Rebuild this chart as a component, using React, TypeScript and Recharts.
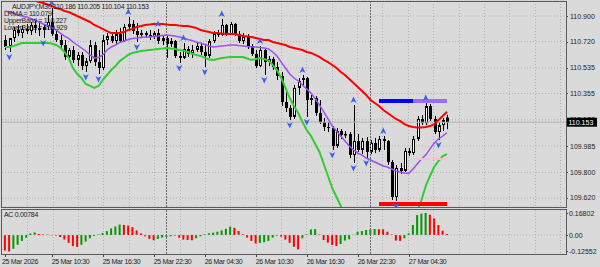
import {
  ComposedChart, Line, Bar, Scatter, XAxis, YAxis, CartesianGrid, ReferenceLine, Cell,
} from 'recharts'

// AUDJPY M30, bar 0 = 25 Mar 05:00, last bar (104) = 27 Mar 09:00
const open = [
  110.731, 110.682, 110.745, 110.802, 110.780, 110.809, 110.794, 110.837, 110.816, 110.802,
  110.823, 110.858, 110.773, 110.731, 110.696, 110.612, 110.661, 110.591, 110.626, 110.548,
  110.583, 110.696, 110.576, 110.534, 110.731, 110.759, 110.724, 110.773, 110.724, 110.823,
  110.844, 110.794, 110.766, 110.780, 110.766, 110.752, 110.780, 110.724, 110.745, 110.703,
  110.724, 110.619, 110.605, 110.668, 110.633, 110.661, 110.689, 110.647, 110.619, 110.724,
  110.780, 110.766, 110.837, 110.773, 110.844, 110.773, 110.724, 110.759, 110.689, 110.633,
  110.548, 110.661, 110.576, 110.598, 110.541, 110.478, 110.295, 110.253, 110.190, 110.394,
  110.450, 110.464, 110.309, 110.323, 110.218, 110.154, 110.119, 110.112, 109.986, 110.091,
  110.063, 110.070, 109.922, 110.021, 109.958, 110.021, 109.944, 110.007, 109.958, 110.035,
  110.021, 109.873, 109.627, 109.831, 109.810, 109.951, 109.936, 110.035, 110.176, 110.147,
  110.267, 110.176, 110.084, 110.133, 110.186,
]
const high = [
  110.766, 110.717, 110.823, 110.837, 110.830, 110.844, 110.858, 110.872, 110.858, 110.837,
  110.907, 110.956, 110.802, 110.766, 110.731, 110.675, 110.689, 110.647, 110.647, 110.605,
  110.731, 110.717, 110.661, 110.766, 110.780, 110.787, 110.802, 110.816, 110.844, 110.893,
  110.872, 110.851, 110.802, 110.794, 110.802, 110.794, 110.809, 110.759, 110.759, 110.745,
  110.731, 110.647, 110.710, 110.689, 110.696, 110.710, 110.703, 110.696, 110.738, 110.794,
  110.802, 110.879, 110.844, 110.858, 110.851, 110.794, 110.780, 110.773, 110.703, 110.661,
  110.689, 110.675, 110.619, 110.612, 110.576, 110.506, 110.379, 110.274, 110.415, 110.464,
  110.485, 110.471, 110.344, 110.337, 110.309, 110.183, 110.154, 110.126, 110.112, 110.105,
  110.091, 110.084, 110.274, 110.070, 110.042, 110.049, 110.028, 110.042, 110.056, 110.056,
  110.028, 109.887, 109.852, 109.866, 109.972, 109.972, 110.056, 110.197, 110.204, 110.288,
  110.281, 110.197, 110.154, 110.183, 110.205,
]
const low = [
  110.661, 110.647, 110.717, 110.759, 110.745, 110.773, 110.766, 110.780, 110.759, 110.745,
  110.802, 110.759, 110.717, 110.675, 110.591, 110.576, 110.569, 110.548, 110.520, 110.506,
  110.569, 110.548, 110.492, 110.520, 110.696, 110.710, 110.703, 110.710, 110.717, 110.802,
  110.773, 110.717, 110.745, 110.745, 110.731, 110.738, 110.703, 110.696, 110.605, 110.682,
  110.605, 110.569, 110.598, 110.612, 110.605, 110.647, 110.626, 110.541, 110.605, 110.710,
  110.752, 110.759, 110.759, 110.766, 110.759, 110.710, 110.703, 110.668, 110.619, 110.534,
  110.541, 110.485, 110.548, 110.520, 110.450, 110.267, 110.225, 110.168, 110.176, 110.344,
  110.408, 110.190, 110.274, 110.197, 110.140, 110.091, 110.084, 109.958, 109.972, 110.035,
  110.042, 109.901, 109.866, 109.944, 109.929, 109.901, 109.929, 109.936, 109.944, 109.958,
  109.852, 109.606, 109.599, 109.789, 109.803, 109.915, 109.922, 110.021, 110.133, 110.133,
  110.161, 110.070, 110.028, 110.091, 110.104,
]
const close = [
  110.682, 110.745, 110.802, 110.780, 110.809, 110.794, 110.837, 110.816, 110.802, 110.823,
  110.858, 110.773, 110.731, 110.696, 110.612, 110.661, 110.591, 110.626, 110.548, 110.583,
  110.696, 110.576, 110.534, 110.731, 110.759, 110.724, 110.773, 110.724, 110.823, 110.844,
  110.794, 110.766, 110.780, 110.766, 110.752, 110.780, 110.724, 110.745, 110.703, 110.724,
  110.619, 110.605, 110.668, 110.633, 110.661, 110.689, 110.647, 110.619, 110.724, 110.780,
  110.766, 110.837, 110.773, 110.844, 110.773, 110.724, 110.759, 110.689, 110.633, 110.548,
  110.661, 110.576, 110.598, 110.541, 110.478, 110.295, 110.253, 110.190, 110.394, 110.443,
  110.464, 110.309, 110.323, 110.218, 110.154, 110.119, 110.112, 109.986, 110.091, 110.063,
  110.070, 109.922, 110.021, 109.958, 110.021, 109.944, 110.007, 109.958, 110.035, 110.021,
  109.873, 109.627, 109.831, 109.810, 109.951, 109.936, 110.035, 110.176, 110.147, 110.267,
  110.176, 110.084, 110.133, 110.168, 110.153,
]

// indicator lines
const upperBand = [
  111.069, 111.055, 111.048, 111.034, 111.027, 111.020, 111.013, 111.009, 110.998, 110.991,
  110.981, 110.970, 110.956, 110.949, 110.935, 110.928, 110.914, 110.900, 110.886, 110.872,
  110.858, 110.837, 110.823, 110.809, 110.794, 110.780, 110.780, 110.780, 110.787, 110.802,
  110.809, 110.823, 110.830, 110.837, 110.840, 110.844, 110.844, 110.844, 110.840, 110.837,
  110.837, 110.833, 110.830, 110.830, 110.823, 110.816, 110.802, 110.794, 110.787, 110.780,
  110.780, 110.777, 110.773, 110.773, 110.773, 110.766, 110.759, 110.756, 110.752, 110.745,
  110.738, 110.731, 110.731, 110.717, 110.710, 110.703, 110.696, 110.682, 110.675, 110.668,
  110.661, 110.647, 110.640, 110.626, 110.612, 110.591, 110.576, 110.555, 110.534, 110.506,
  110.485, 110.457, 110.429, 110.401, 110.372, 110.344, 110.309, 110.288, 110.267, 110.239,
  110.218, 110.197, 110.176, 110.161, 110.140, 110.126, 110.119, 110.116, 110.116, 110.119,
  110.126, 110.140, 110.168, 110.197, 110.227,
]
const lrma = [
  110.935, 110.928, 110.921, 110.907, 110.900, 110.893, 110.882, 110.872, 110.858, 110.844,
  110.833, 110.819, 110.802, 110.780, 110.759, 110.742, 110.717, 110.696, 110.675, 110.654,
  110.626, 110.605, 110.608, 110.626, 110.661, 110.682, 110.696, 110.714, 110.724, 110.735,
  110.742, 110.745, 110.749, 110.752, 110.752, 110.756, 110.759, 110.763, 110.766, 110.763,
  110.759, 110.752, 110.745, 110.735, 110.728, 110.717, 110.710, 110.700, 110.689, 110.682,
  110.685, 110.689, 110.692, 110.696, 110.696, 110.692, 110.689, 110.685, 110.682, 110.682,
  110.678, 110.675, 110.668, 110.647, 110.619, 110.576, 110.534, 110.492, 110.464, 110.443,
  110.415, 110.386, 110.358, 110.316, 110.274, 110.225, 110.176, 110.126, 110.091, 110.056,
  110.021, 109.986, 109.958, 109.936, 109.922, 109.901, 109.887, 109.873, 109.859, 109.845,
  109.838, 109.824, 109.810, 109.803, 109.796, 109.792, 109.824, 109.859, 109.894, 109.922,
  109.965, 110.007, 110.035, 110.056, 110.079,
]
const lowerBand = [
  110.682, 110.682, 110.689, 110.700, 110.710, 110.710, 110.710, 110.710, 110.710, 110.710,
  110.710, 110.706, 110.696, 110.678, 110.647, 110.605, 110.534, 110.492, 110.464, 110.422,
  110.408, 110.394, 110.408, 110.450, 110.485, 110.520, 110.548, 110.583, 110.605, 110.626,
  110.640, 110.647, 110.654, 110.657, 110.661, 110.664, 110.668, 110.671, 110.675, 110.671,
  110.668, 110.661, 110.657, 110.647, 110.636, 110.626, 110.619, 110.605, 110.594, 110.591,
  110.598, 110.605, 110.608, 110.612, 110.612, 110.612, 110.612, 110.601, 110.591, 110.598,
  110.605, 110.598, 110.587, 110.555, 110.520, 110.464, 110.394, 110.323, 110.267, 110.218,
  110.154, 110.098, 110.056, 110.000, 109.944, 109.859, 109.775, 109.690, 109.627, 109.564,
  109.500, 109.437, 109.381, 109.325, 109.282, 109.247, 109.219, 109.205, 109.198, 109.205,
  109.219, 109.240, 109.268, 109.310, 109.353, 109.409, 109.465, 109.529, 109.606, 109.704,
  109.775, 109.838, 109.880, 109.915, 109.929,
]

// Accelerator Oscillator
const acValues = [
  -0.118, -0.1255, -0.105, -0.075, -0.045, -0.02, 0.012, 0.02, 0.008, 0.005,
  0.003, -0.002, -0.005, -0.015, -0.035, -0.06, -0.085, -0.09, -0.075, -0.05,
  -0.025, -0.008, 0.004, 0.015, 0.03, 0.05, 0.065, 0.08, 0.077, 0.072,
  0.06, 0.035, 0.012, -0.01, -0.03, -0.04, -0.03, -0.02, -0.014, -0.01,
  -0.005, -0.02, -0.035, -0.038, -0.04, -0.025, -0.01, 0.006, 0.014, 0.018,
  0.025, 0.035, 0.048, 0.064, 0.055, 0.03, 0.005, -0.02, -0.045, -0.065,
  -0.06, -0.055, -0.045, -0.02, -0.005, -0.012, -0.035, -0.06, -0.09, -0.11,
  -0.025, 0.005, 0.043, 0.045, 0.005, -0.038, -0.058, -0.076, -0.084, -0.069,
  -0.043, -0.033, 0.002, 0.025, 0.03, 0.038, 0.043, 0.046, 0.044, 0.043,
  0.025, 0.005, -0.043, -0.045, -0.025, 0.013, 0.076, 0.153, 0.163, 0.16802,
  0.155, 0.127, 0.076, 0.033, 0.00784,
]

const fractalUpBars = [11, 29, 36, 42, 51, 60, 70, 82, 89, 99]
const fractalDownBars = [1, 9, 19, 22, 31, 41, 47, 61, 67, 71, 77, 82, 85, 92, 102]

// zone levels drawn at the right
const resistanceLevel = 110.302
const supportLevel = 109.578
const midLevel = 109.894
const zoneStart = 88
const zoneSplit = 96
const zoneEnd = 104

const priceTicks = [110.9, 110.72, 110.535, 110.355, 110.17, 109.985, 109.8, 109.62]
const acTicks = [0.16802, 0, -0.12552]
const acTickLabels = ['0.16802', '0.00', '-0.12552']
const timeTickBars = [0, 11, 23, 35, 47, 59, 71, 83, 95]
const timeTickLabels = [
  '25 Mar 2026', '25 Mar 10:30', '25 Mar 16:30', '25 Mar 22:30', '26 Mar 04:30',
  '26 Mar 10:30', '26 Mar 16:30', '26 Mar 22:30', '27 Mar 04:30',
]
const daySeparators = [38, 86]

const last = open.length - 1
const lastClose = close[last]

const bars = open.map((o, i) => ({
  i,
  open: o,
  high: high[i],
  low: low[i],
  close: close[i],
  range: [low[i], high[i]],
  upper: upperBand[i],
  lrma: lrma[i],
  lower: lowerBand[i],
  ac: acValues[i],
}))

const upArrows = fractalUpBars.map((i) => ({ i, price: high[i] }))
const downArrows = fractalDownBars.map((i) => ({ i, price: low[i] }))
const blueZone = [{ i: zoneStart, price: resistanceLevel }, { i: zoneSplit, price: resistanceLevel }]
const purpleZone = [{ i: zoneSplit, price: resistanceLevel }, { i: zoneEnd, price: resistanceLevel }]
const redZone = [{ i: zoneStart, price: supportLevel }, { i: zoneEnd, price: supportLevel }]
const pinkZone = [{ i: zoneSplit, price: midLevel }, { i: zoneEnd, price: midLevel }]

const FONT = '"Liberation Sans", Arial, sans-serif'
const BG = '#dadada'
const GRID = '#b2b2b2'
const xDomain: [number, number] = [-0.706, 132]

// MT4 grid is pixel based, not bar based
const gridX = Array.from({ length: 22 }, (_, k) => Math.round(27.3 + k * 25.37) + 0.5)

function Candle(props: any) {
  const { x, y, width, height, payload } = props
  if (x == null || !payload) return null
  const top = Math.min(y, y + height)
  const bottom = Math.max(y, y + height)
  const span = payload.high - payload.low
  const toY = (p: number) => (span > 0 ? top + ((payload.high - p) / span) * (bottom - top) : top)
  const cx = Math.round(x + width / 2)
  const yo = toY(payload.open)
  const yc = toY(payload.close)
  const bodyTop = Math.min(yo, yc)
  const bodyH = Math.max(Math.abs(yc - yo), 1)
  const bull = payload.close >= payload.open
  return (
    <g>
      <line x1={cx + 0.5} x2={cx + 0.5} y1={top} y2={bottom} stroke="#000" strokeWidth={1} />
      {bull ? (
        <rect x={cx - 0.5} y={bodyTop + 0.5} width={2} height={Math.max(bodyH - 1, 0.5)} fill="#fff" stroke="#000" strokeWidth={1} />
      ) : (
        <rect x={cx - 1} y={bodyTop} width={3} height={bodyH} fill="#000" />
      )}
    </g>
  )
}

function UpArrow(props: any) {
  const { cx, cy } = props
  if (cx == null) return null
  const y = cy - 5
  return <path d={`M${cx},${y - 3.5} L${cx + 3},${y + 3} L${cx},${y + 1.2} L${cx - 3},${y + 3} Z`} fill="#3b5cf5" />
}

function DownArrow(props: any) {
  const { cx, cy } = props
  if (cx == null) return null
  const y = cy + 5
  return <path d={`M${cx},${y + 3.5} L${cx + 3},${y - 3} L${cx},${y - 1.2} L${cx - 3},${y - 3} Z`} fill="#3b5cf5" />
}

function PriceTick({ x, y, payload }: any) {
  const v = payload.value
  if (v === lastClose) {
    return (
      <g>
        <rect x={x} y={y - 4.5} width={31} height={9} fill="#000" />
        <text x={x + 2.5} y={y + 2.5} fontSize={7} fontFamily={FONT} fill="#fff">{v.toFixed(3)}</text>
      </g>
    )
  }
  return (
    <g>
      <line x1={x} x2={x + 2} y1={Math.round(y) + 0.5} y2={Math.round(y) + 0.5} stroke="#444" />
      <text x={x + 4} y={y + 2.5} fontSize={7} fontFamily={FONT} fill="#222">{v.toFixed(3)}</text>
    </g>
  )
}

function AcTick({ x, y, payload }: any) {
  const k = acTicks.indexOf(payload.value)
  return (
    <g>
      <line x1={x} x2={x + 2} y1={Math.round(y) + 0.5} y2={Math.round(y) + 0.5} stroke="#444" />
      <text x={x + 3} y={y + 2.5} fontSize={7} fontFamily={FONT} fill="#222">{acTickLabels[k]}</text>
    </g>
  )
}

function TimeTick({ x, y, payload }: any) {
  const k = timeTickBars.indexOf(payload.value)
  const tx = k === 0 ? 2 : x
  return (
    <g>
      <line x1={Math.round(x) + 0.5} x2={Math.round(x) + 0.5} y1={y} y2={y + 3} stroke="#444" />
      <text x={tx} y={y + 9.5} fontSize={7} fontFamily={FONT} fill="#222" letterSpacing={-0.3}>
        {timeTickLabels[k]}
      </text>
    </g>
  )
}

export default function App() {
  const txt = { fontSize: 7, fontFamily: FONT, fill: '#1c1c1c', letterSpacing: -0.3 }
  return (
    <div style={{ position: 'absolute', left: 0, top: 0, width: 600, height: 267, background: BG, overflow: 'hidden' }}>
      <div style={{ position: 'absolute', left: 0, top: 0 }}>
        <ComposedChart width={600} height={209} data={bars} margin={{ top: 1, right: 0, bottom: 2, left: 2 }}>
          <CartesianGrid stroke={GRID} strokeDasharray="1 2" verticalPoints={gridX} />
          <XAxis dataKey="i" type="number" domain={xDomain} allowDataOverflow hide />
          <YAxis
            orientation="right"
            width={34}
            type="number"
            domain={[109.5567, 111.0055]}
            allowDataOverflow
            ticks={[...priceTicks, lastClose]}
            interval={0}
            tickSize={0}
            tickMargin={0}
            axisLine={false}
            tickLine={false}
            tick={<PriceTick />}
          />
          {daySeparators.map((d) => (
            <ReferenceLine key={d} x={d} stroke="#6a6a6a" strokeDasharray="2 1" />
          ))}
          <ReferenceLine y={lastClose} stroke="#b8b8b8" />
          <Bar dataKey="range" barSize={3} shape={<Candle />} isAnimationActive={false} />
          <Line dataKey="upper" stroke="#ff0000" strokeWidth={2} dot={false} isAnimationActive={false} />
          <Line dataKey="lrma" stroke="#9c50ee" strokeWidth={1.5} dot={false} isAnimationActive={false} />
          <Line dataKey="lower" stroke="#32cd32" strokeWidth={2} dot={false} isAnimationActive={false} />
          <Line data={blueZone} dataKey="price" stroke="#0000ff" strokeWidth={4} dot={false} isAnimationActive={false} />
          <Line data={purpleZone} dataKey="price" stroke="#9e6bff" strokeWidth={4} dot={false} isAnimationActive={false} />
          <Line data={redZone} dataKey="price" stroke="#ff0000" strokeWidth={4} dot={false} isAnimationActive={false} />
          <Line data={pinkZone} dataKey="price" stroke="#ffc0cb" strokeWidth={2} dot={false} isAnimationActive={false} />
          <Scatter data={upArrows} dataKey="price" shape={<UpArrow />} isAnimationActive={false} />
          <Scatter data={downArrows} dataKey="price" shape={<DownArrow />} isAnimationActive={false} />
        </ComposedChart>
      </div>
      <div style={{ position: 'absolute', left: 0, top: 209 }}>
        <ComposedChart width={600} height={58} data={bars} margin={{ top: 1, right: 0, bottom: 0, left: 2 }}>
          <CartesianGrid stroke={GRID} strokeDasharray="1 2" horizontal={false} verticalPoints={gridX} />
          <XAxis
            dataKey="i"
            type="number"
            domain={xDomain}
            allowDataOverflow
            height={13}
            ticks={timeTickBars}
            interval={0}
            tickSize={0}
            tickMargin={0}
            axisLine={false}
            tickLine={false}
            tick={<TimeTick />}
          />
          <YAxis
            orientation="right"
            width={34}
            type="number"
            domain={[-0.145, 0.191]}
            allowDataOverflow
            ticks={acTicks}
            interval={0}
            tickSize={0}
            tickMargin={0}
            axisLine={false}
            tickLine={false}
            tick={<AcTick />}
          />
          <ReferenceLine y={0} stroke={GRID} strokeDasharray="1 2" />
          {daySeparators.map((d) => (
            <ReferenceLine key={d} x={d} stroke="#6a6a6a" strokeDasharray="2 1" />
          ))}
          <Bar dataKey="ac" barSize={2} isAnimationActive={false}>
            {acValues.map((v, i) => (
              <Cell key={i} fill={i > 0 && v > acValues[i - 1] ? '#009a00' : '#ff0000'} />
            ))}
          </Bar>
        </ComposedChart>
      </div>
      <svg width={600} height={267} style={{ position: 'absolute', left: 0, top: 0, pointerEvents: 'none' }}>
        <rect x={1.5} y={1.5} width={565} height={206} fill="none" stroke="#5a5a5a" />
        <rect x={1.5} y={209.5} width={565} height={45} fill="none" stroke="#5a5a5a" />
        <text x={12} y={8.5} {...txt}>
          {`AUDJPY,M30 ${open[last].toFixed(3)} ${high[last].toFixed(3)} ${low[last].toFixed(3)} ${close[last].toFixed(3)}`}
        </text>
        <text x={4} y={15.5} {...txt}>{`LRMA = ${lrma[last].toFixed(3)}`}</text>
        <text x={4} y={22.5} {...txt}>{`UpperBand = ${upperBand[last].toFixed(3)}`}</text>
        <text x={4} y={29.5} {...txt}>{`LowerBand = ${lowerBand[last].toFixed(3)}`}</text>
        <text x={4} y={217} {...txt}>{`AC ${acValues[last].toFixed(5)}`}</text>
      </svg>
    </div>
  )
}
